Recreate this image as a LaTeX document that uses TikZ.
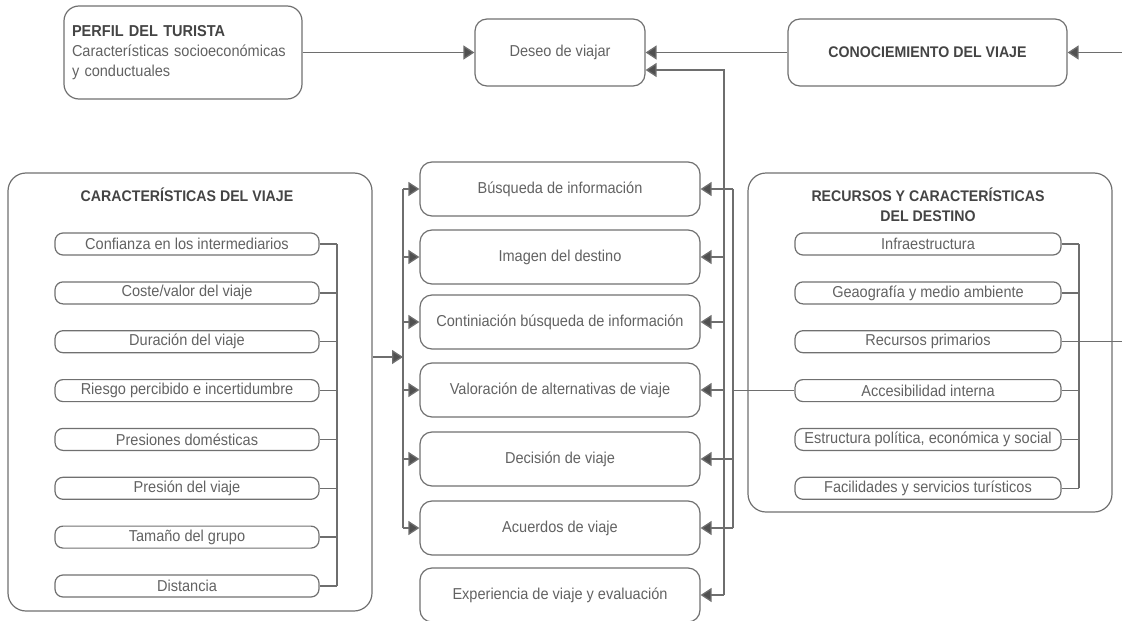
\documentclass[tikz,border=0pt]{standalone}
\usepackage{fontspec}
\setmainfont{Liberation Sans}[FakeStretch=0.92]
\usetikzlibrary{arrows.meta}
\definecolor{ink}{HTML}{626262}
\definecolor{headink}{HTML}{444444}
\definecolor{edge}{HTML}{707070}
\definecolor{wirec}{HTML}{6E6E6E}
\definecolor{tipc}{HTML}{505050}

\begin{document}
\begin{tikzpicture}[x=1pt,y=-1pt,
  every node/.style={font=\fontsize{15.8}{20}\selectfont, text=ink},
  panel/.style={draw=edge, line width=1.2pt, rounded corners=18pt, inner sep=0pt},
  card/.style={draw=edge, line width=1.2pt, rounded corners=12pt, inner sep=0pt},
  stage/.style={card, minimum width=280pt, minimum height=54pt},
  item/.style={draw=edge, line width=1.2pt, rounded corners=8pt, minimum width=264pt, minimum height=22pt, inner sep=0pt},
  heading/.style={font=\fontsize{15.4}{20}\selectfont\bfseries, text=headink, align=center},
  wire/.style={draw=wirec, line width=1.3pt},
  feed/.style={wire, -{Triangle[length=11pt,width=14pt,fill=tipc]}}
]
\useasboundingbox (0,0) rectangle (1122,621);
\clip (0,0) rectangle (1122,621);

% top row
\node[card, rounded corners=15pt, minimum width=238pt, minimum height=93pt,
      text width=222pt, align=left] (perfil) at (183,52.5)
  {{\bfseries\color{headink}PERFIL DEL TURISTA}\\Características socioeconómicas\\y conductuales};
\node[card, minimum width=170pt, minimum height=67pt] (deseo) at (560,52.5) {Deseo de viajar};
\node[card, minimum width=279pt, minimum height=67pt, font=\fontsize{15.4}{20}\selectfont\bfseries, text=headink]
  (conoc) at (927.5,52.5) {CONOCIEMIENTO DEL VIAJE};
\coordinate (outR) at (1122,52.5);
\coordinate (dIn) at ([yshift=-17.5pt]deseo.east);

% decision stages
\node[stage] (busq) at (560,189) {Búsqueda de información};
\node[stage] (img)  at (560,257) {Imagen del destino};
\node[stage] (cont) at (560,322) {Continiación búsqueda de información};
\node[stage] (val)  at (560,390) {Valoración de alternativas de viaje};
\node[stage] (dec)  at (560,459) {Decisión de viaje};
\node[stage] (acu)  at (560,528) {Acuerdos de viaje};
\node[stage] (exp)  at (560,595) {Experiencia de viaje y evaluación};

% trip characteristics
\node[panel, minimum width=364pt, minimum height=438pt] (lbox) at (190,392) {};
\node[heading] (ltitle) at (187,195) {CARACTERÍSTICAS DEL VIAJE};
\node[item] (c1) at (187,244.0) {Confianza en los intermediarios};
\node[item] (c2) at (187,292.9) {Coste/valor del viaje};
\node[item] (c3) at (187,341.7) {Duración del viaje};
\node[item] (c4) at (187,390.6) {Riesgo percibido e incertidumbre};
\node[item] (c5) at (187,439.4) {Presiones domésticas};
\node[item] (c6) at (187,488.3) {Presión del viaje};
\node[item] (c7) at (187,537.1) {Tamaño del grupo};
\node[item] (c8) at (187,586.0) {Distancia};

% destination resources
\node[panel, minimum width=364pt, minimum height=339pt] (rbox) at (930,342.5) {};
\node[heading] (rtitle) at (928,205) {RECURSOS Y CARACTERÍSTICAS\\DEL DESTINO};
\node[item, minimum width=266pt] (r1) at (928,244.0) {Infraestructura};
\node[item, minimum width=266pt] (r2) at (928,292.9) {Geaografía y medio ambiente};
\node[item, minimum width=266pt] (r3) at (928,341.7) {Recursos primarios};
\node[item, minimum width=266pt] (r4) at (928,390.6) {Accesibilidad interna};
\node[item, minimum width=266pt] (r5) at (928,439.4) {Estructura política, económica y social};
\node[item, minimum width=266pt] (r6) at (928,488.3) {Facilidades y servicios turísticos};
\coordinate (outR2) at (1122,341.7);

% bus lines
\coordinate (lbus) at (337,0);
\coordinate (mbus) at (403,0);
\coordinate (busA) at (724,0);
\coordinate (busB) at (733,0);
\coordinate (rbus) at (1079,0);
\coordinate (mIn)  at (403,357);

% top connectors
\draw[feed] (perfil.east) -- (deseo.west);
\draw[feed] (conoc.west) -- (deseo.east);
\draw[feed] (outR) -- (conoc.east);

% left group
\foreach \i in {1,...,8} \draw[wire] (c\i.east) -- (c\i.east -| lbus);
\draw[wire] (c1.east -| lbus) -- (c8.east -| lbus);
\draw[feed] (lbox.east |- mIn) -- (mIn);
\draw[wire] (busq.west -| mbus) -- (acu.west -| mbus);
\foreach \s in {busq,img,cont,val,dec,acu} \draw[feed] (\s.west -| mbus) -- (\s.west);

% right group
\foreach \i in {1,...,6} \draw[wire] (r\i.east) -- (r\i.east -| rbus);
\draw[wire] (r1.east -| rbus) -- (r6.east -| rbus);
\draw[wire] (r3.east) -- (outR2);
\draw[wire] (r4.west) -- (r4.west -| busB);

% feedback buses
\draw[feed] (exp.east -| busA) -- (busA |- dIn) -- (dIn);
\foreach \s in {img,cont,val,exp} \draw[feed] (\s.east -| busA) -- (\s.east);
\draw[wire] (busq.east -| busB) -- (acu.east -| busB);
\foreach \s in {busq,dec,acu} \draw[feed] (\s.east -| busB) -- (\s.east);
\end{tikzpicture}
\end{document}
